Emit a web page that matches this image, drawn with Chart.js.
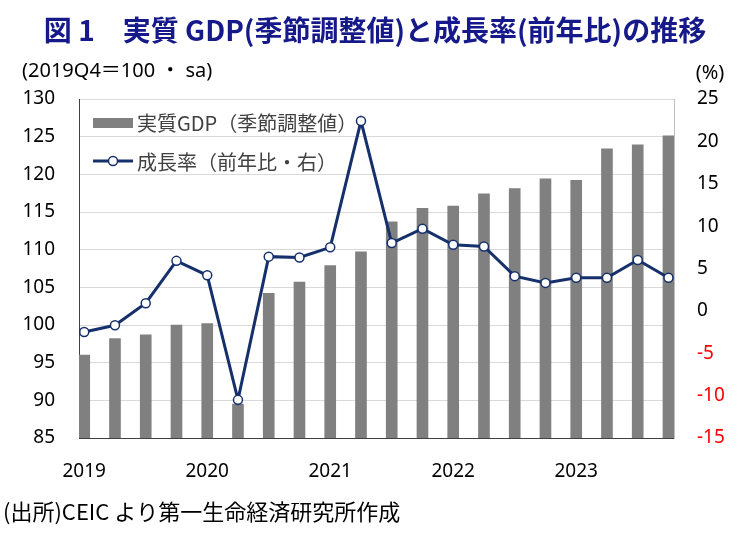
<!DOCTYPE html>
<html>
<head>
<meta charset="utf-8">
<script src="https://cdn.jsdelivr.net/npm/chart.js@4.4.1/dist/chart.umd.min.js"></script>
<style>
 body { margin: 0; background: #fff; }
 #wrap { width: 744px; height: 535px; }
</style>
</head>
<body>
<div id="wrap"><canvas id="gdpChart" width="744" height="535"></canvas></div>
<script>
// quarters 2019Q1 .. 2023Q4
var quarters = [
 "2019Q1", "2019Q2", "2019Q3", "2019Q4",
 "2020Q1", "2020Q2", "2020Q3", "2020Q4",
 "2021Q1", "2021Q2", "2021Q3", "2021Q4",
 "2022Q1", "2022Q2", "2022Q3", "2022Q4",
 "2023Q1", "2023Q2", "2023Q3", "2023Q4",
];
// real GDP, sa, 2019Q4 = 100 (left axis)
var gdpValues = [
 96.0, 98.2, 98.7, 100.0,
 100.2, 89.5, 104.2, 105.7,
 107.9, 109.7, 113.7, 115.5,
 115.8, 117.4, 118.1, 119.4,
 119.2, 123.4, 123.9, 125.1,
];
// growth rate y/y % (right axis)
var growthValues = [
 -2.5, -1.7, 0.9, 5.9,
 4.2, -10.5, 6.4, 6.3,
 7.5, 22.4, 8.0, 9.7,
 7.8, 7.6, 4.1, 3.3,
 3.9, 3.9, 6.0, 3.9,
];
var yearLabels = ["2019", "2020", "2021", "2022", "2023"];
var yearTickIdx = [0, 4, 8, 12, 16];

var leftTicks = { min: 85, max: 130, step: 5 };
var rightTicks = { min: -15, max: 25, step: 5 };

var numFont = "'Noto Sans', 'Noto Sans CJK JP', sans-serif";
var jpFont = "'Noto Sans CJK JP', sans-serif";
var barColor = "#808080";
var lineColor = "#15306b";

var textPlugin = {
 id: "pageText",
 afterDraw: function (chart) {
  var ctx = chart.ctx;
  var area = chart.chartArea;
  ctx.save();

  // title
  ctx.fillStyle = "#16198a";
  ctx.font = "bold 28px " + jpFont;
  ctx.textAlign = "center";
  ctx.textBaseline = "middle";
  ctx.fillText("図 1　実質 GDP(季節調整値)と成長率(前年比)の推移", 375, 30);

  // axis units
  ctx.fillStyle = "#000";
  ctx.font = "20px " + numFont;
  ctx.textAlign = "left";
  ctx.fillText("(2019Q4＝100 ・ sa)", 22, 71);
  ctx.textAlign = "center";
  ctx.fillText("(%)", 710, 73);

  // source
  ctx.textAlign = "left";
  ctx.font = "22px " + jpFont;
  ctx.fillText("(出所)CEIC より第一生命経済研究所作成", 3, 512);

  // legend inside the plot
  var lx = area.left + 14;
  ctx.fillStyle = barColor;
  ctx.fillRect(lx, 118, 40, 10);
  ctx.strokeStyle = lineColor;
  ctx.lineWidth = 3;
  ctx.beginPath();
  ctx.moveTo(lx, 161);
  ctx.lineTo(lx + 40, 161);
  ctx.stroke();
  ctx.beginPath();
  ctx.arc(lx + 20, 161, 4.5, 0, Math.PI * 2);
  ctx.fillStyle = "#fff";
  ctx.fill();
  ctx.lineWidth = 1.5;
  ctx.stroke();

  ctx.fillStyle = "#404040";
  ctx.font = "20px " + jpFont;
  ctx.textAlign = "left";
  ctx.fillText("実質GDP（季節調整値）", lx + 44, 123);
  ctx.fillText("成長率（前年比・右）", lx + 44, 162);

  ctx.restore();
 },
};

var gdpPoints = gdpValues.map(function (v, i) {
 return { x: i, y: v };
});
var growthPoints = growthValues.map(function (v, i) {
 return { x: i, y: v };
});

new Chart(document.getElementById("gdpChart"), {
 type: "bar",
 data: {
  datasets: [
   {
    type: "line",
    label: "成長率（前年比・右）",
    data: growthPoints,
    yAxisID: "y1",
    borderColor: lineColor,
    borderWidth: 3,
    pointRadius: 4.5,
    pointBorderWidth: 1.5,
    pointBackgroundColor: "#fff",
    pointBorderColor: lineColor,
    tension: 0,
    order: 0,
   },
   {
    label: "実質GDP（季節調整値）",
    data: gdpPoints,
    yAxisID: "y",
    backgroundColor: barColor,
    barThickness: 11,
    order: 1,
   },
  ],
 },
 options: {
  responsive: false,
  animation: false,
  devicePixelRatio: 1,
  layout: { padding: { top: 99, bottom: 57, left: 0, right: 0 } },
  plugins: {
   legend: { display: false },
   tooltip: { enabled: false },
  },
  scales: {
   x: {
    type: "linear",
    offset: false,
    min: -0.17,
    max: 19.18,
    grid: { display: false, drawTicks: false },
    border: { display: true, color: "#404040", width: 1 },
    afterBuildTicks: function (scale) {
     scale.ticks = yearTickIdx.map(function (v) {
      return { value: v };
     });
    },
    afterFit: function (scale) {
     scale.height = 40;
    },
    ticks: {
     autoSkip: false,
     maxRotation: 0,
     padding: 22,
     color: "#000",
     font: { family: numFont, size: 19 },
     callback: function (value) {
      return yearLabels[yearTickIdx.indexOf(value)];
     },
    },
   },
   y: {
    position: "left",
    min: leftTicks.min,
    max: leftTicks.max,
    grid: { color: "#d9d9d9", lineWidth: 1, drawTicks: false },
    border: { display: true, color: "#404040", width: 1 },
    afterFit: function (scale) {
     scale.width = 79;
    },
    ticks: {
     stepSize: leftTicks.step,
     padding: 24,
     color: "#000",
     font: { family: numFont, size: 19 },
    },
   },
   y1: {
    position: "right",
    min: rightTicks.min,
    max: rightTicks.max,
    grid: { display: false, drawTicks: false },
    border: { display: true, color: "#bfbfbf", width: 1 },
    afterFit: function (scale) {
     scale.width = 70;
    },
    ticks: {
     stepSize: rightTicks.step,
     padding: 23,
     font: { family: numFont, size: 19 },
     color: function (c) {
      return c.tick && c.tick.value < 0 ? "#ff0000" : "#000";
     },
    },
   },
  },
 },
 plugins: [textPlugin],
});
</script>
</body>
</html>
